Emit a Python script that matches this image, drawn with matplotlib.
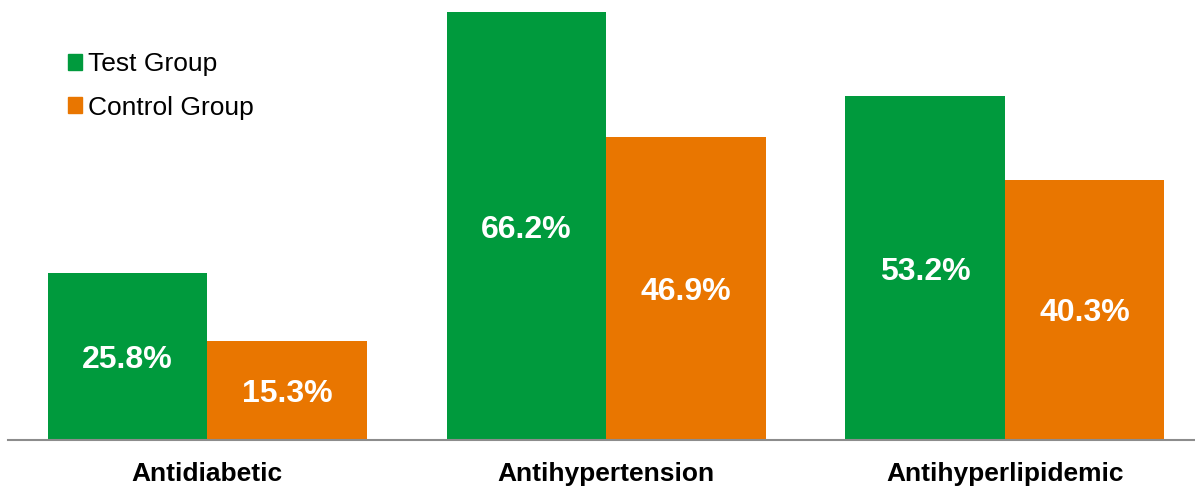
import matplotlib
matplotlib.use("Agg")
import matplotlib.pyplot as plt
from matplotlib.patches import Patch
import numpy as np

categories = ["Antidiabetic", "Antihypertension", "Antihyperlipidemic"]
test_group = [25.8, 66.2, 53.2]
control_group = [15.3, 46.9, 40.3]
series_names = ["Test Group", "Control Group"]

GREEN = "#009A3D"
ORANGE = "#E97600"

plt.rcParams["font.family"] = ["Liberation Sans", "DejaVu Sans"]

fig = plt.figure(figsize=(11.95, 4.87), dpi=100)
ax = fig.add_axes([8 / 1195, 47 / 487, 1187 / 1195, 440 / 487])

x = np.arange(len(categories))
w = 0.4
bars_t = ax.bar(x - w / 2, test_group, width=w, color=GREEN)
bars_c = ax.bar(x + w / 2, control_group, width=w, color=ORANGE)

for bars, vals in ((bars_t, test_group), (bars_c, control_group)):
    for b, v in zip(bars, vals):
        ax.text(b.get_x() + b.get_width() / 2, v / 2, f"{v:.1f}%",
                ha="center", va="center_baseline", color="white",
                fontsize=23, fontweight="bold")

ax.set_xlim(-0.5, 2.477)
ax.set_ylim(0, 68.1)
ax.set_xticks(x)
ax.set_xticklabels(categories, fontsize=19, fontweight="bold")
ax.tick_params(axis="x", length=0, pad=16)
ax.set_yticks([])
for s in ("top", "right", "left"):
    ax.spines[s].set_visible(False)
ax.spines["bottom"].set_color("#8C8C8C")
ax.spines["bottom"].set_linewidth(1.5)

handles = [Patch(color=GREEN), Patch(color=ORANGE)]
ax.legend(handles, series_names, loc="upper left",
          bbox_to_anchor=(0.0505, 0.882), frameon=False, fontsize=19,
          handlelength=0.55, handleheight=0.55, handletextpad=0.22,
          labelspacing=0.75, borderaxespad=0, borderpad=0)

fig.savefig("out.png", dpi=100)
